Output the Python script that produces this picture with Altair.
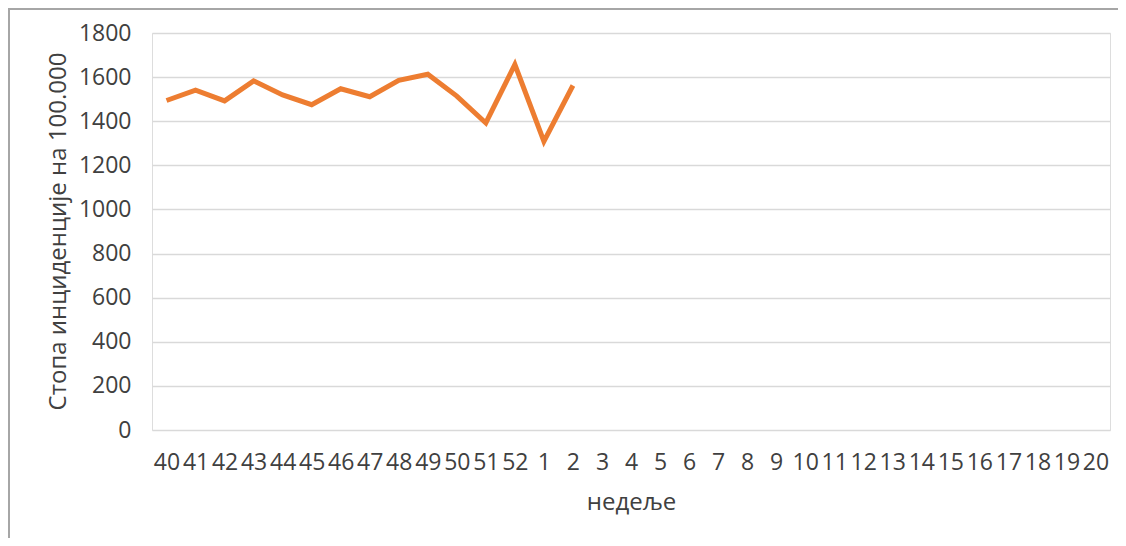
import altair as alt
import pandas as pd

weeks = ["40", "41", "42", "43", "44", "45", "46", "47", "48", "49", "50", "51", "52",
         "1", "2", "3", "4", "5", "6", "7", "8", "9", "10", "11", "12", "13", "14",
         "15", "16", "17", "18", "19", "20"]
observed_weeks = ["40", "41", "42", "43", "44", "45", "46", "47", "48", "49", "50", "51", "52", "1", "2"]
rates = [1494, 1541, 1492, 1583, 1519, 1475, 1547, 1511, 1585, 1613, 1514, 1392, 1657, 1309, 1562]
y_ticks = [0, 200, 400, 600, 800, 1000, 1200, 1400, 1600, 1800]

df = pd.DataFrame({"week": observed_weeks, "rate": rates})

FONT = "Open Sans"
TXT = "#404040"
FS = 23
TFS = 24

line = alt.Chart(df).mark_line(color="#ED7D31", strokeWidth=5, strokeCap="butt").encode(
    x=alt.X("week:N", sort=weeks,
            scale=alt.Scale(domain=weeks, type="point", padding=0.5),
            axis=alt.Axis(title="недеље", labelAngle=0, ticks=False, domain=False,
                          labelOverlap=False, labelPadding=21, labelFontSize=FS,
                          labelFont=FONT, labelColor=TXT,
                          titleFont=FONT, titleFontSize=TFS, titleFontWeight="normal",
                          titleColor=TXT, titleX=479, titleY=72,
                          titleBaseline="middle", titleAlign="center")),
    y=alt.Y("rate:Q", scale=alt.Scale(domain=[0, 1800], nice=False),
            axis=alt.Axis(title="Стопа инциденције на 100.000", values=y_ticks, format="d",
                          ticks=False, domain=False, grid=True, gridColor="#d9d9d9",
                          gridWidth=1.5, labelPadding=21, labelFontSize=FS,
                          labelFont=FONT, labelColor=TXT,
                          titleFont=FONT, titleFontSize=TFS, titleFontWeight="normal",
                          titleColor=TXT, titleX=-94, titleY=198, titleAngle=-90,
                          titleBaseline="middle", titleAlign="center")),
)

frame_df = pd.DataFrame({"k": [0]})
left_rule = alt.Chart(frame_df).mark_rule(color="#a6a6a6", strokeWidth=2).encode(
    x=alt.value(-143), y=alt.value(-24), y2=alt.value(505))
top_rule = alt.Chart(frame_df).mark_rule(color="#a6a6a6", strokeWidth=2).encode(
    x=alt.value(-144), x2=alt.value(966), y=alt.value(-24))

chart = alt.layer(line, left_rule, top_rule).properties(
    width=958, height=397,
    autosize=alt.AutoSizeParams(type="none"),
    padding={"left": 144, "top": 25, "right": 8, "bottom": 108},
).configure_view(stroke=None).configure(background="white")

chart.save("out.html", embed_options={"renderer": "svg", "actions": False})
